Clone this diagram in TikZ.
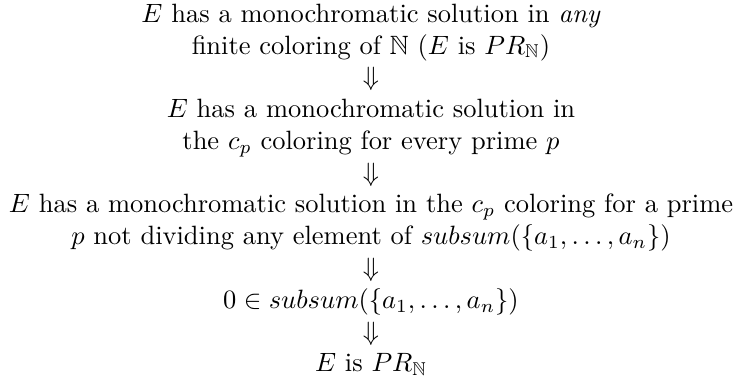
\documentclass[tikz,border=0pt]{standalone}
\usepackage{amssymb}
\begin{document}
\begin{tikzpicture}[x=0.3777pt,y=-0.3777pt,
  txt/.style={anchor=base,inner sep=0pt,outer sep=0pt,font=\fontsize{10pt}{12pt}\selectfont},
  impl/.style={anchor=base,inner sep=0pt,outer sep=0pt,font=\fontsize{10pt}{12pt}\selectfont}]
\useasboundingbox (0,0) rectangle (738,383);
\node[txt] (s1a) at (371,22.2) {$E$ has a monochromatic solution in \emph{any}};
\node[txt] (s1b) at (371,54.0) {finite coloring of $\mathbb{N}$ ($E$ is $PR_{\mathbb{N}}$)};
\node[impl] (a1) at (371,85.8) {$\Downarrow$};
\node[txt] (s2a) at (371,117.5) {$E$ has a monochromatic solution in};
\node[txt] (s2b) at (371,149.3) {the $c_p$ coloring for every prime $p$};
\node[impl] (a2) at (371,181.1) {$\Downarrow$};
\node[txt] (s3a) at (371,212.9) {$E$ has a monochromatic solution in the $c_p$ coloring for a prime};
\node[txt] (s3b) at (371,244.7) {$p$ not dividing any element of $subsum(\{a_1,\ldots,a_n\})$};
\node[impl] (a3) at (371,276.5) {$\Downarrow$};
\node[txt] (s4) at (371,308.2) {$0\in subsum(\{a_1,\ldots,a_n\})$};
\node[impl] (a4) at (371,340.0) {$\Downarrow$};
\node[txt] (s5) at (371,371.8) {$E$ is $PR_{\mathbb{N}}$};
\end{tikzpicture}
\end{document}
